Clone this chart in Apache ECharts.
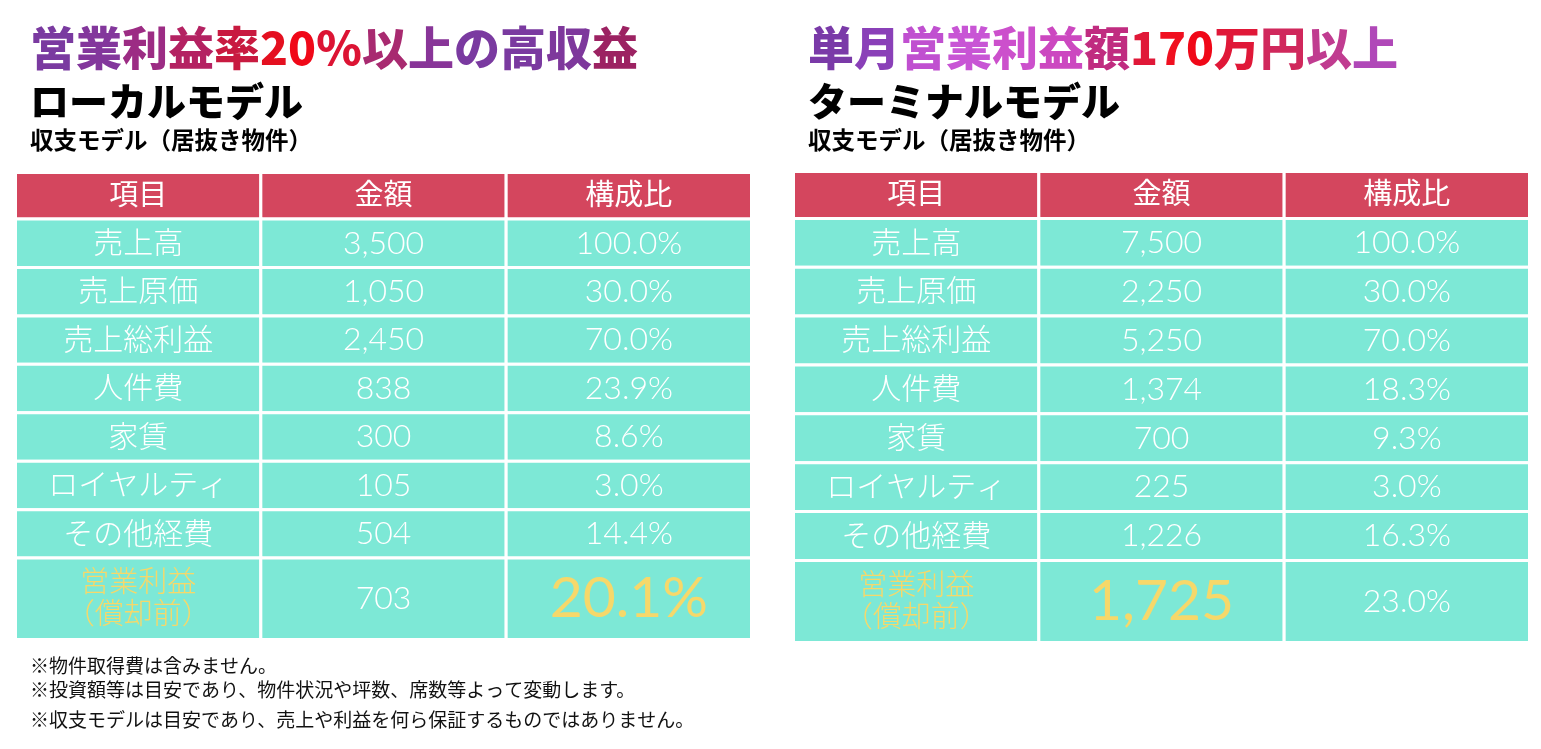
<!DOCTYPE html>
<html><head><meta charset="utf-8">
<script src="https://cdn.jsdelivr.net/npm/echarts/dist/echarts.min.js"></script>
<style>html,body{margin:0;padding:0;background:#fff}#c{width:1541px;height:749px}</style>
</head><body><div id="c"></div><script>
// ---- data ----
const columns = ['項目', '金額', '構成比'];
const items = ['売上高', '売上原価', '売上総利益', '人件費', '家賃', 'ロイヤルティ', 'その他経費', '営業利益\n（償却前）'];
const localAmounts = [3500, 1050, 2450, 838, 300, 105, 504, 703];
const localRatios = [100.0, 30.0, 70.0, 23.9, 8.6, 3.0, 14.4, 20.1];
const terminalAmounts = [7500, 2250, 5250, 1374, 700, 225, 1226, 1725];
const terminalRatios = [100.0, 30.0, 70.0, 18.3, 9.3, 3.0, 16.3, 23.0];
const localHeadline = '営業利益率20％以上の高収益';
const terminalHeadline = '単月営業利益額170万円以上';
const localModel = 'ローカルモデル';
const terminalModel = 'ターミナルモデル';
const subtitle = '収支モデル（居抜き物件）';
const notes = ['※物件取得費は含みません。', '※投資額等は目安であり、物件状況や坪数、席数等よって変動します。', '※収支モデルは目安であり、売上や利益を何ら保証するものではありません。'];

// ---- styling ----
const localHeadColors = ['#7a3aa0','#83379c','#9c2c84','#b42262','#c81a40','#e41020','#f00818','#dc1434','#a82a70','#883598','#7a3aa0','#7a3aa0','#7e389c','#9c2262'];
const terminalHeadColors = ['#7a3aa8','#8a40b8','#c050d0','#c855d5','#cc50cc','#cc48c0','#c02c80','#e01838','#f01020','#f00818','#e01838','#d0285c','#c03c90','#b048b8'];
const CJK = "'Noto Sans CJK JP'";
const CELLFONT = "Lato, 'Noto Sans CJK JP', sans-serif";
const HEAD_H = 0.96, LAST_H = 1.68;
const Y_MAX = HEAD_H + (items.length - 1) + LAST_H;
const STYLES = {
  head:   {fill: '#d4465e', color: '#ffffff', size: 29, weight: 400, lh: 32},
  label:  {fill: '#7de8d6', color: '#ffffff', size: 30, weight: 300, lh: 32},
  num:    {fill: '#7de8d6', color: '#ffffff', size: 32, weight: 300, lh: 34},
  profit: {fill: '#7de8d6', color: '#f6d86a', size: 29, weight: 300, lh: 32},
  big:    {fill: '#7de8d6', color: '#f6d86a', size: 57, weight: 400, lh: 62}
};

const fmtAmt = v => v.toLocaleString('en-US');
const fmtPct = v => v.toFixed(1) + '%';

function buildCells(amounts, ratios, bigCol) {
  const cells = [];
  columns.forEach((h, c) => cells.push({value: [c, 0, HEAD_H], text: h, kind: 'head'}));
  items.forEach((it, r) => {
    const y0 = HEAD_H + r;
    const last = r === items.length - 1;
    const y1 = last ? y0 + LAST_H : y0 + 1;
    cells.push({value: [0, y0, y1], text: it, kind: last ? 'profit' : 'label'});
    cells.push({value: [1, y0, y1], text: fmtAmt(amounts[r]), kind: last && bigCol === 1 ? 'big' : 'num'});
    cells.push({value: [2, y0, y1], text: fmtPct(ratios[r]), kind: last && bigCol === 2 ? 'big' : 'num'});
  });
  return cells;
}

function makeRender(cells) {
  return function (params, api) {
    const c = cells[params.dataIndex];
    const top = api.coord([api.value(0), api.value(1)]);
    const bot = api.coord([api.value(0), api.value(2)]);
    const w = api.size([1, 0])[0];
    const x = top[0] - w / 2, y = top[1], h = bot[1] - top[1];
    const st = STYLES[c.kind];
    return {type: 'group', children: [
      {type: 'rect', shape: {x: x, y: y, width: w, height: h}, style: {fill: st.fill, stroke: '#ffffff', lineWidth: 3}},
      {type: 'text', x: top[0], y: y + h / 2, style: {text: c.text, fill: st.color, fontSize: st.size, fontFamily: CELLFONT, fontWeight: st.weight, align: 'center', verticalAlign: 'middle', lineHeight: st.lh}}
    ]};
  };
}

function richTitle(text, colors, left, top) {
  const chars = Array.from(text);
  const rich = {};
  chars.forEach((ch, i) => { rich['c' + i] = {color: colors[i], fontSize: 46, fontWeight: 900, fontFamily: CJK, lineHeight: 50}; });
  return {text: chars.map((ch, i) => '{c' + i + '|' + ch + '}').join(''), left: left, top: top, padding: 0, textStyle: {rich: rich, fontSize: 46, lineHeight: 50}};
}
function plainTitle(text, left, top, size, weight, color, lh) {
  return {text: text, left: left, top: top, padding: 0, textStyle: {fontSize: size, fontWeight: weight, color: color, fontFamily: CJK, lineHeight: lh}};
}

const localCells = buildCells(localAmounts, localRatios, 2);
const terminalCells = buildCells(terminalAmounts, terminalRatios, 1);

const titles = [
  richTitle(localHeadline, localHeadColors, 30, 23),
  richTitle(terminalHeadline, terminalHeadColors, 808, 23),
  plainTitle(localModel, 30, 79, 39, 900, '#000000', 44),
  plainTitle(terminalModel, 808, 79, 39, 900, '#000000', 44),
  plainTitle(subtitle, 30, 127, 23.5, 700, '#000000', 26),
  plainTitle(subtitle, 808, 127, 23.5, 700, '#000000', 26),
  plainTitle(notes[0], 30, 654, 19, 400, '#111111', 24),
  plainTitle(notes[1], 30, 678, 19, 400, '#111111', 24),
  plainTitle(notes[2], 30, 708, 19, 400, '#111111', 24)
];

const chart = echarts.init(document.getElementById('c'), null, {renderer: 'canvas'});
chart.setOption({
  backgroundColor: '#ffffff',
  animation: false,
  title: titles,
  tooltip: {show: false},
  grid: [
    {left: 15.5, top: 172.5, width: 736, height: 467},
    {left: 793.5, top: 171.5, width: 736, height: 471}
  ],
  xAxis: [0, 1].map(i => ({type: 'category', gridIndex: i, data: columns, show: false})),
  yAxis: [0, 1].map(i => ({type: 'value', gridIndex: i, min: 0, max: Y_MAX, inverse: true, show: false})),
  series: [
    {type: 'custom', xAxisIndex: 0, yAxisIndex: 0, data: localCells.map(c => c.value), encode: {x: 0, y: [1, 2]}, renderItem: makeRender(localCells), silent: true},
    {type: 'custom', xAxisIndex: 1, yAxisIndex: 1, data: terminalCells.map(c => c.value), encode: {x: 0, y: [1, 2]}, renderItem: makeRender(terminalCells), silent: true}
  ]
});
</script></body></html>
